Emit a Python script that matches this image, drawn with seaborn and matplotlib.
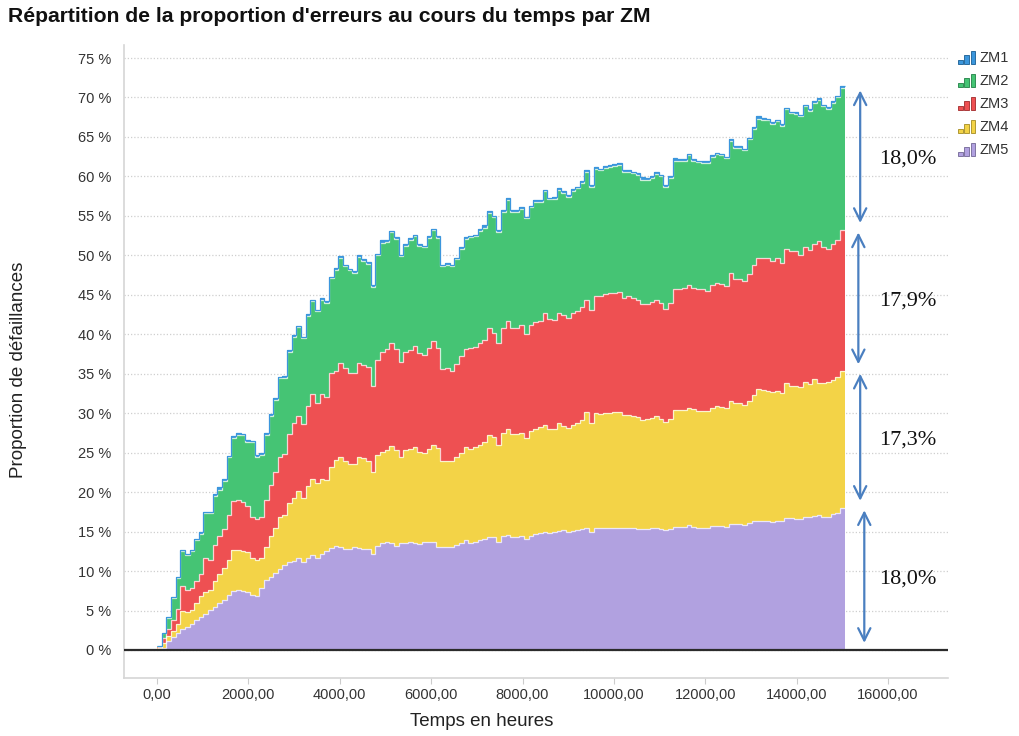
import numpy as np
import pandas as pd
import matplotlib
matplotlib.use("Agg")
import matplotlib.pyplot as plt
import seaborn as sns
from matplotlib.legend_handler import HandlerBase
from matplotlib.patches import Rectangle
from matplotlib.colors import to_rgb

# Time axis: consecutive bins of equal width, in hours
n_bins = 148
bin_width = 101.7

# Cumulative level (in %) reached at the top of each zone, bin by bin
zm5_top = [
    0.1, 0.3, 1.1, 1.7, 2.2, 2.7, 2.9, 3.3, 3.8, 4.2,
    4.6, 5.1, 5.5, 5.9, 6.3, 7.0, 7.5, 7.6, 7.5, 7.4,
    7.0, 6.8, 7.8, 8.9, 9.3, 9.8, 10.3, 10.8, 11.2, 11.3,
    11.6, 11.2, 11.6, 12.0, 11.7, 12.2, 12.5, 12.9, 13.2, 13.0,
    12.8, 12.8, 13.0, 12.9, 12.8, 12.8, 12.2, 13.2, 13.5, 13.7,
    13.6, 13.2, 13.5, 13.6, 13.7, 13.5, 13.4, 13.7, 13.7, 13.7,
    13.1, 13.0, 13.0, 13.1, 13.3, 13.5, 13.9, 13.5, 13.7, 13.9,
    14.0, 14.3, 14.3, 13.7, 14.4, 14.6, 14.3, 14.3, 14.4, 14.1,
    14.4, 14.7, 14.8, 15.0, 14.8, 14.9, 15.1, 15.2, 15.0, 15.1,
    15.2, 15.3, 15.4, 15.0, 15.5, 15.5, 15.5, 15.5, 15.5, 15.5,
    15.4, 15.5, 15.4, 15.3, 15.3, 15.3, 15.4, 15.4, 15.3, 15.2,
    15.3, 15.6, 15.6, 15.6, 15.8, 15.6, 15.5, 15.5, 15.5, 15.7,
    15.7, 15.7, 15.6, 16.0, 15.9, 15.9, 15.8, 16.1, 16.3, 16.4,
    16.4, 16.3, 16.2, 16.4, 16.3, 16.7, 16.7, 16.6, 16.6, 16.8,
    16.8, 17.0, 17.1, 16.9, 16.9, 17.2, 17.4, 18.0,
]
zm4_top = [
    0.3, 0.9, 1.8, 2.4, 3.3, 4.9, 4.8, 5.1, 5.9, 6.8,
    7.3, 7.6, 8.7, 9.6, 10.4, 11.4, 12.7, 12.7, 12.6, 12.4,
    11.6, 11.4, 11.6, 13.1, 14.4, 15.4, 16.9, 17.1, 18.6, 19.3,
    20.1, 19.2, 20.8, 21.7, 21.1, 21.6, 21.5, 23.2, 24.1, 24.5,
    24.0, 23.6, 23.6, 24.5, 24.3, 24.0, 22.5, 24.7, 25.1, 25.4,
    25.8, 25.3, 24.5, 25.3, 25.5, 25.7, 25.1, 25.0, 25.5, 26.0,
    25.6, 24.0, 23.9, 23.9, 24.4, 25.0, 25.7, 25.5, 25.7, 26.0,
    26.4, 27.2, 27.0, 26.0, 27.5, 28.0, 27.4, 27.4, 27.5, 26.8,
    27.7, 28.0, 28.2, 28.5, 28.0, 28.0, 28.7, 28.4, 28.1, 28.5,
    28.8, 29.2, 30.1, 28.8, 30.0, 29.9, 30.0, 30.0, 30.1, 30.2,
    29.8, 29.8, 29.6, 29.5, 29.2, 29.3, 29.4, 29.6, 29.3, 28.9,
    29.3, 30.4, 30.4, 30.4, 30.7, 30.5, 30.3, 30.3, 30.3, 30.7,
    30.9, 30.8, 30.7, 31.6, 31.3, 31.3, 31.0, 31.6, 32.3, 33.1,
    32.9, 32.8, 32.7, 32.8, 32.5, 33.8, 33.5, 33.4, 33.3, 33.9,
    33.7, 34.3, 33.8, 33.8, 34.0, 34.2, 34.6, 35.3,
]
zm3_top = [
    0.4, 1.5, 2.7, 3.8, 5.2, 8.1, 7.6, 7.9, 8.8, 9.6,
    11.6, 11.4, 13.3, 14.4, 15.3, 17.1, 18.9, 19.0, 18.7, 18.2,
    16.9, 16.6, 16.8, 19.0, 20.9, 22.6, 24.5, 24.8, 27.4, 28.8,
    29.7, 28.6, 30.9, 32.4, 31.3, 32.4, 32.1, 35.1, 35.3, 36.4,
    35.7, 35.1, 35.1, 36.4, 36.1, 35.9, 33.4, 36.7, 37.8, 38.1,
    38.9, 38.1, 36.5, 37.8, 38.0, 38.5, 37.6, 37.4, 38.3, 39.1,
    38.2, 35.6, 35.7, 35.4, 36.2, 37.2, 38.1, 38.2, 38.4, 38.9,
    39.3, 40.8, 40.2, 38.9, 40.8, 41.7, 40.8, 40.8, 41.2, 40.0,
    41.2, 41.6, 41.7, 42.7, 41.9, 41.8, 42.7, 42.5, 42.0, 42.7,
    42.9, 43.5, 44.4, 43.1, 44.9, 44.8, 45.1, 45.2, 45.2, 45.4,
    44.6, 44.8, 44.6, 44.3, 43.8, 43.8, 44.1, 44.4, 44.0, 43.2,
    44.0, 45.7, 45.7, 45.8, 46.2, 45.8, 45.7, 45.7, 45.5, 46.2,
    46.5, 46.4, 46.1, 47.7, 47.0, 47.0, 46.7, 47.6, 48.8, 49.7,
    49.7, 49.6, 49.3, 49.7, 49.0, 50.8, 50.5, 50.5, 50.0, 51.0,
    50.7, 51.4, 51.8, 51.0, 50.8, 51.4, 52.0, 53.2,
]
zm2_top = [
    0.5, 2.1, 4.1, 6.6, 9.1, 12.5, 12.0, 12.5, 13.9, 14.7,
    17.3, 17.3, 19.5, 20.3, 21.4, 24.4, 26.8, 27.2, 27.2, 26.4,
    26.3, 24.5, 24.7, 27.3, 29.6, 31.7, 34.4, 34.4, 37.8, 39.6,
    40.9, 39.5, 42.3, 44.2, 42.9, 44.4, 43.9, 47.1, 48.1, 49.7,
    48.6, 48.1, 47.8, 49.8, 49.3, 48.9, 46.0, 50.0, 51.6, 51.7,
    52.9, 52.1, 49.9, 51.2, 51.9, 52.4, 51.2, 51.0, 52.2, 53.2,
    52.2, 48.6, 48.8, 48.6, 49.5, 50.8, 52.1, 52.3, 52.4, 53.1,
    53.5, 55.4, 54.8, 53.0, 55.5, 57.0, 55.5, 55.5, 55.9, 54.7,
    56.1, 56.7, 56.8, 58.1, 57.1, 57.2, 58.3, 57.9, 57.4, 58.2,
    58.5, 59.2, 60.5, 58.7, 61.0, 60.8, 61.1, 61.2, 61.3, 61.5,
    60.6, 60.6, 60.4, 60.2, 59.6, 59.6, 59.8, 60.3, 60.0, 58.7,
    59.8, 62.0, 62.0, 62.0, 62.7, 62.0, 61.8, 61.7, 61.7, 62.5,
    62.8, 62.7, 62.3, 64.5, 63.6, 63.6, 63.3, 64.7, 66.0, 67.3,
    67.2, 67.1, 66.7, 67.0, 66.4, 68.5, 68.0, 67.9, 67.6, 68.9,
    68.3, 69.3, 69.7, 68.9, 68.6, 69.3, 70.0, 71.2,
]
# ZM1 only adds a very thin band on top of the stack
zm1 = [
    0.0, 0.1, 0.1, 0.1, 0.2, 0.2, 0.2, 0.2, 0.2, 0.2,
    0.2, 0.2, 0.2, 0.3, 0.2, 0.2, 0.3, 0.3, 0.2, 0.2,
    0.2, 0.2, 0.2, 0.2, 0.3, 0.2, 0.2, 0.3, 0.2, 0.3,
    0.2, 0.2, 0.3, 0.2, 0.2, 0.2, 0.3, 0.2, 0.3, 0.2,
    0.2, 0.2, 0.2, 0.3, 0.2, 0.2, 0.2, 0.2, 0.3, 0.2,
    0.2, 0.2, 0.2, 0.2, 0.3, 0.2, 0.2, 0.2, 0.3, 0.2,
    0.2, 0.2, 0.2, 0.2, 0.2, 0.3, 0.2, 0.2, 0.2, 0.2,
    0.3, 0.2, 0.2, 0.2, 0.2, 0.3, 0.2, 0.2, 0.2, 0.2,
    0.2, 0.3, 0.2, 0.2, 0.2, 0.2, 0.2, 0.3, 0.2, 0.2,
    0.2, 0.2, 0.3, 0.2, 0.2, 0.2, 0.2, 0.2, 0.3, 0.2,
    0.2, 0.2, 0.2, 0.2, 0.3, 0.2, 0.2, 0.2, 0.2, 0.2,
    0.2, 0.3, 0.2, 0.2, 0.2, 0.2, 0.2, 0.2, 0.3, 0.2,
    0.2, 0.2, 0.2, 0.3, 0.2, 0.2, 0.2, 0.2, 0.2, 0.3,
    0.2, 0.2, 0.2, 0.2, 0.3, 0.2, 0.2, 0.2, 0.2, 0.2,
    0.3, 0.2, 0.2, 0.2, 0.2, 0.3, 0.2, 0.2,
]

zones = ["ZM1", "ZM2", "ZM3", "ZM4", "ZM5"]
zone_colors = {
    "ZM1": "#3b96dc",
    "ZM2": "#45c474",
    "ZM3": "#ee5052",
    "ZM4": "#f3d347",
    "ZM5": "#b1a1e0",
}
y_ticks = list(range(0, 80, 5))
x_ticks = list(range(0, 18000, 2000))

title = "Répartition de la proportion d'erreurs au cours du temps par ZM"
x_label = "Temps en heures"
y_label = "Proportion de défaillances"

# ---------------------------------------------------------------------------
# Layer thickness of each zone
edges = np.arange(n_bins + 1) * bin_width
centers = (edges[:-1] + edges[1:]) / 2
tops = {
    "ZM5": np.array(zm5_top),
    "ZM4": np.array(zm4_top),
    "ZM3": np.array(zm3_top),
    "ZM2": np.array(zm2_top),
}
layers = {
    "ZM5": tops["ZM5"],
    "ZM4": tops["ZM4"] - tops["ZM5"],
    "ZM3": tops["ZM3"] - tops["ZM4"],
    "ZM2": tops["ZM2"] - tops["ZM3"],
    "ZM1": np.array(zm1),
}
df = pd.concat(
    [pd.DataFrame({"heures": centers, "proportion": layers[z], "zone": z}) for z in zones],
    ignore_index=True,
)

sns.set_style("white")
plt.rcParams["font.family"] = ["Liberation Sans", "DejaVu Sans"]

fig = plt.figure(figsize=(10.19, 7.36), dpi=100)
ax = fig.add_axes([124 / 1019, 58 / 736, 824 / 1019, 633 / 736])

sns.histplot(
    data=df, x="heures", weights="proportion", hue="zone", hue_order=zones,
    bins=list(edges), multiple="stack", element="step", palette=zone_colors,
    alpha=1, linewidth=0, legend=False, ax=ax,
)

# Thin separators along the top of each band
running = np.zeros(n_bins)
for z in ["ZM5", "ZM4", "ZM3", "ZM2", "ZM1"]:
    running = running + layers[z]
    if z == "ZM1":
        ax.stairs(running, edges, baseline=None, color=zone_colors["ZM1"], lw=0.9, zorder=3)
    else:
        ax.stairs(running, edges, baseline=None, color="white", lw=0.9, alpha=0.75, zorder=3)

ax.axhline(0, color="#2b2b2b", lw=1.6, zorder=4)

# Axes styling
ax.set_xlim(-722, 17312)
ax.set_ylim(-3.55, 76.65)
ax.set_yticks(y_ticks)
ax.set_yticklabels([f"{v} %" for v in y_ticks])
ax.set_xticks(x_ticks)
ax.set_xticklabels([f"{v},00" for v in x_ticks])
ax.set_axisbelow(True)
ax.yaxis.grid(True, color="#cfcfcf", lw=0.9, ls=(0, (1, 1.6)))
ax.xaxis.grid(False)
ax.tick_params(axis="y", length=0, pad=9, labelsize=10.5, labelcolor="#333333")
ax.tick_params(axis="x", length=4, width=0.8, color="#cccccc", pad=3,
               labelsize=10.5, labelcolor="#333333", bottom=True)
for side in ("top", "right"):
    ax.spines[side].set_visible(False)
for side in ("left", "bottom"):
    ax.spines[side].set_color("#d6d6d6")
    ax.spines[side].set_linewidth(1.2)

ax.set_xlabel(x_label, fontsize=13.5, color="#222222", va="center")
ax.xaxis.set_label_coords(0.4345, -0.0695)
ax.set_ylabel(y_label, fontsize=13.5, color="#222222", va="center")
ax.yaxis.set_label_coords(-0.1286, 0.4866)

fig.text(8 / 1019, 1 - 17 / 736, title, fontsize=15.2, fontweight="bold",
         color="#111111", ha="left", va="center")

# Share of each zone at the last bin, with double arrows
arrow_x = {"ZM2": 15390, "ZM3": 15350, "ZM4": 15390, "ZM5": 15480}
label_x = 16440
base = 0.0
for z in ["ZM5", "ZM4", "ZM3", "ZM2"]:
    share = layers[z][-1]
    lo, hi = base, base + share
    ax.annotate("", xy=(arrow_x[z], lo + 0.9), xytext=(arrow_x[z], hi - 0.3),
                arrowprops=dict(arrowstyle="<->", color="#4a7fc0", lw=1.6,
                                mutation_scale=22, shrinkA=0, shrinkB=0),
                annotation_clip=False)
    ax.text(label_x, (lo + hi) / 2, f"{share:.1f}".replace(".", ",") + "%",
            fontsize=16, family="Liberation Serif", ha="center", va="center",
            color="#111111")
    base = hi


# Legend entries drawn as small three-bar icons
class BarIconHandler(HandlerBase):
    def create_artists(self, legend, orig_handle, xdescent, ydescent,
                       width, height, fontsize, trans):
        face = orig_handle.get_facecolor()
        edge = tuple(c * 0.72 for c in to_rgb(face))
        bar_w = width * 0.26
        gap = width * 0.1
        arts = []
        for i, frac in enumerate((0.35, 0.75, 1.15)):
            arts.append(Rectangle((-xdescent + i * (bar_w + gap), -ydescent - height * 0.1),
                                  bar_w, height * frac, facecolor=face, edgecolor=edge,
                                  lw=0.7, transform=trans))
        return arts


handles = [Rectangle((0, 0), 1, 1, facecolor=zone_colors[z]) for z in zones]
fig.legend(handles, zones, loc="upper left", bbox_to_anchor=(958 / 1019, 1 - 51 / 736),
           frameon=False, fontsize=10.5, handlelength=1.2, handleheight=0.85,
           handletextpad=0.3, labelspacing=0.62, borderaxespad=0, borderpad=0,
           handler_map={Rectangle: BarIconHandler()}, labelcolor="#333333")

fig.savefig("out.png", dpi=100)
